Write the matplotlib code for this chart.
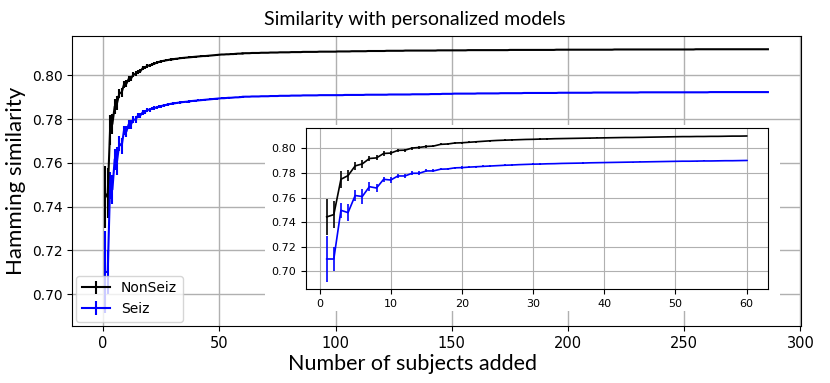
import matplotlib
matplotlib.use('Agg')
import matplotlib.pyplot as plt
import matplotlib.patches as patches

# Valores (x = 1..286 sujeitos adicionados)
n_sujeitos = 286

# primeiros 60 pontos (região do inset), com barras de erro
nonseiz_ini = [0.7443, 0.7462, 0.7749, 0.7779, 0.7858, 0.7874, 0.7918, 0.7923, 0.7959, 0.7962,
               0.7984, 0.7986, 0.8003, 0.8008, 0.8016, 0.8019, 0.8033, 0.8036, 0.8044, 0.8046,
               0.8050, 0.8054, 0.8058, 0.8062, 0.8065, 0.8067, 0.8069, 0.8071, 0.8073, 0.8074,
               0.8076, 0.8077, 0.8079, 0.8080, 0.8081, 0.8082, 0.8083, 0.8084, 0.8085, 0.8086,
               0.8087, 0.8088, 0.8089, 0.8089, 0.8090, 0.8091, 0.8092, 0.8093, 0.8094, 0.8095,
               0.8096, 0.8096, 0.8097, 0.8097, 0.8098, 0.8098, 0.8099, 0.8100, 0.8100, 0.8101]
nonseiz_err = [0.0143, 0.0113, 0.0068, 0.0045, 0.0035, 0.0030, 0.0022, 0.0020, 0.0018, 0.0016,
               0.0014, 0.0013, 0.0012, 0.0011, 0.0010, 0.0009, 0.0009, 0.0008, 0.0008, 0.0007,
               0.0007, 0.0007, 0.0006, 0.0006, 0.0006, 0.0006, 0.0005, 0.0005, 0.0005, 0.0005,
               0.0005, 0.0005, 0.0004, 0.0004, 0.0004, 0.0004, 0.0004, 0.0004, 0.0004, 0.0004,
               0.0004, 0.0004, 0.0004, 0.0004, 0.0004, 0.0003, 0.0003, 0.0003, 0.0003, 0.0003,
               0.0003, 0.0003, 0.0003, 0.0003, 0.0003, 0.0003, 0.0003, 0.0003, 0.0003, 0.0003]
seiz_ini = [0.7101, 0.7101, 0.7497, 0.7478, 0.7617, 0.7609, 0.7689, 0.7678, 0.7749, 0.7743,
            0.7776, 0.7776, 0.7798, 0.7798, 0.7817, 0.7817, 0.7831, 0.7833, 0.7842, 0.7844,
            0.7848, 0.7851, 0.7854, 0.7857, 0.7860, 0.7863, 0.7865, 0.7868, 0.7870, 0.7872,
            0.7873, 0.7875, 0.7876, 0.7878, 0.7879, 0.7880, 0.7881, 0.7883, 0.7884, 0.7885,
            0.7886, 0.7887, 0.7888, 0.7889, 0.7890, 0.7891, 0.7892, 0.7893, 0.7894, 0.7895,
            0.7896, 0.7896, 0.7897, 0.7898, 0.7898, 0.7899, 0.7900, 0.7900, 0.7901, 0.7902]
seiz_err = [0.0187, 0.0100, 0.0060, 0.0068, 0.0048, 0.0064, 0.0035, 0.0035, 0.0022, 0.0025,
            0.0020, 0.0020, 0.0015, 0.0015, 0.0012, 0.0012, 0.0010, 0.0010, 0.0009, 0.0009,
            0.0008, 0.0008, 0.0008, 0.0007, 0.0007, 0.0007, 0.0006, 0.0006, 0.0006, 0.0006,
            0.0005, 0.0005, 0.0005, 0.0005, 0.0005, 0.0005, 0.0005, 0.0005, 0.0005, 0.0005,
            0.0005, 0.0005, 0.0005, 0.0004, 0.0004, 0.0004, 0.0004, 0.0004, 0.0004, 0.0004,
            0.0004, 0.0004, 0.0004, 0.0004, 0.0003, 0.0003, 0.0003, 0.0003, 0.0003, 0.0003]

# pontos 61..286 (erro desprezível na escala do gráfico)
nonseiz_fim = [0.8102, 0.8102, 0.8102, 0.8103, 0.8103, 0.8103, 0.8103, 0.8104, 0.8104, 0.8104,
               0.8104, 0.8105, 0.8105, 0.8105, 0.8105, 0.8106, 0.8106, 0.8106, 0.8106, 0.8106,
               0.8107, 0.8107, 0.8107, 0.8107, 0.8107, 0.8108, 0.8108, 0.8108, 0.8108, 0.8108,
               0.8108, 0.8108, 0.8109, 0.8109, 0.8109, 0.8109, 0.8109, 0.8109, 0.8109, 0.8109,
               0.8110, 0.8110, 0.8110, 0.8110, 0.8110, 0.8110, 0.8111, 0.8111, 0.8111, 0.8111,
               0.8111, 0.8111, 0.8111, 0.8112, 0.8112, 0.8112, 0.8112, 0.8112, 0.8112, 0.8112,
               0.8112, 0.8113, 0.8113, 0.8113, 0.8113, 0.8113, 0.8113, 0.8113, 0.8113, 0.8114,
               0.8114, 0.8114, 0.8114, 0.8114, 0.8114, 0.8114, 0.8114, 0.8114, 0.8114, 0.8114,
               0.8114, 0.8114, 0.8114, 0.8115, 0.8115, 0.8115, 0.8115, 0.8115, 0.8115, 0.8115,
               0.8115, 0.8115, 0.8115, 0.8115, 0.8115, 0.8115, 0.8116, 0.8116, 0.8116, 0.8116,
               0.8116, 0.8116, 0.8116, 0.8116, 0.8116, 0.8116, 0.8116, 0.8116, 0.8116, 0.8116,
               0.8116, 0.8116, 0.8116, 0.8116, 0.8117, 0.8117, 0.8117, 0.8117, 0.8117, 0.8117,
               0.8117, 0.8117, 0.8117, 0.8117, 0.8117, 0.8117, 0.8117, 0.8117, 0.8117, 0.8117,
               0.8117, 0.8117, 0.8117, 0.8117, 0.8118, 0.8118, 0.8118, 0.8118, 0.8118, 0.8118,
               0.8118, 0.8118, 0.8118, 0.8118, 0.8118, 0.8118, 0.8118, 0.8118, 0.8118, 0.8118,
               0.8118, 0.8118, 0.8118, 0.8118, 0.8118, 0.8118, 0.8118, 0.8118, 0.8118, 0.8119,
               0.8119, 0.8119, 0.8119, 0.8119, 0.8119, 0.8119, 0.8119, 0.8119, 0.8119, 0.8119,
               0.8119, 0.8119, 0.8119, 0.8119, 0.8119, 0.8119, 0.8119, 0.8119, 0.8119, 0.8119,
               0.8119, 0.8119, 0.8119, 0.8119, 0.8119, 0.8119, 0.8119, 0.8119, 0.8119, 0.8119,
               0.8119, 0.8119, 0.8119, 0.8119, 0.8120, 0.8120, 0.8120, 0.8120, 0.8120, 0.8120,
               0.8120, 0.8120, 0.8120, 0.8120, 0.8120, 0.8120, 0.8120, 0.8120, 0.8120, 0.8120,
               0.8120, 0.8120, 0.8120, 0.8120, 0.8120, 0.8120, 0.8120, 0.8120, 0.8120, 0.8120,
               0.8120, 0.8120, 0.8120, 0.8120, 0.8120, 0.8120]
seiz_fim = [0.7903, 0.7903, 0.7903, 0.7904, 0.7904, 0.7904, 0.7904, 0.7905, 0.7905, 0.7905,
            0.7905, 0.7906, 0.7906, 0.7906, 0.7906, 0.7907, 0.7907, 0.7907, 0.7907, 0.7907,
            0.7908, 0.7908, 0.7908, 0.7908, 0.7908, 0.7909, 0.7909, 0.7909, 0.7909, 0.7909,
            0.7909, 0.7909, 0.7910, 0.7910, 0.7910, 0.7910, 0.7910, 0.7910, 0.7910, 0.7910,
            0.7910, 0.7910, 0.7910, 0.7911, 0.7911, 0.7911, 0.7911, 0.7911, 0.7911, 0.7911,
            0.7911, 0.7911, 0.7912, 0.7912, 0.7912, 0.7912, 0.7912, 0.7912, 0.7912, 0.7912,
            0.7912, 0.7912, 0.7913, 0.7913, 0.7913, 0.7913, 0.7913, 0.7913, 0.7913, 0.7913,
            0.7913, 0.7913, 0.7914, 0.7914, 0.7914, 0.7914, 0.7914, 0.7914, 0.7914, 0.7914,
            0.7915, 0.7915, 0.7915, 0.7915, 0.7915, 0.7916, 0.7916, 0.7916, 0.7916, 0.7916,
            0.7917, 0.7917, 0.7917, 0.7917, 0.7917, 0.7917, 0.7917, 0.7917, 0.7917, 0.7917,
            0.7918, 0.7918, 0.7918, 0.7918, 0.7918, 0.7918, 0.7918, 0.7918, 0.7918, 0.7918,
            0.7919, 0.7919, 0.7919, 0.7919, 0.7919, 0.7919, 0.7919, 0.7919, 0.7919, 0.7919,
            0.7920, 0.7920, 0.7920, 0.7920, 0.7920, 0.7920, 0.7920, 0.7920, 0.7920, 0.7920,
            0.7920, 0.7920, 0.7920, 0.7920, 0.7920, 0.7921, 0.7921, 0.7921, 0.7921, 0.7921,
            0.7921, 0.7921, 0.7921, 0.7921, 0.7921, 0.7921, 0.7921, 0.7921, 0.7921, 0.7921,
            0.7922, 0.7922, 0.7922, 0.7922, 0.7922, 0.7922, 0.7922, 0.7922, 0.7922, 0.7922,
            0.7922, 0.7922, 0.7922, 0.7922, 0.7922, 0.7922, 0.7922, 0.7922, 0.7922, 0.7922,
            0.7923, 0.7923, 0.7923, 0.7923, 0.7923, 0.7923, 0.7923, 0.7923, 0.7923, 0.7923,
            0.7923, 0.7923, 0.7923, 0.7923, 0.7923, 0.7923, 0.7923, 0.7923, 0.7923, 0.7923,
            0.7923, 0.7923, 0.7923, 0.7923, 0.7923, 0.7923, 0.7923, 0.7923, 0.7923, 0.7923,
            0.7924, 0.7924, 0.7924, 0.7924, 0.7924, 0.7924, 0.7924, 0.7924, 0.7924, 0.7924,
            0.7924, 0.7924, 0.7924, 0.7924, 0.7924, 0.7924, 0.7924, 0.7924, 0.7924, 0.7924,
            0.7924, 0.7924, 0.7924, 0.7924, 0.7924, 0.7924]

rotulos = ['NonSeiz', 'Seiz']
cores = ['black', 'blue']

n_ini = len(nonseiz_ini)
x_ini = list(range(1, n_ini + 1))
x_fim = list(range(n_ini, n_sujeitos + 1))

fonte_titulo = ['Lato', 'DejaVu Sans']

fig = plt.figure(figsize=(8.3, 3.83), dpi=100)
ax = fig.add_axes([0.0871, 0.1488, 0.878, 0.757])

series = [(nonseiz_ini, nonseiz_err, nonseiz_fim), (seiz_ini, seiz_err, seiz_fim)]
for (ini, err, fim), rot, cor in zip(series, rotulos, cores):
    ax.errorbar(x_ini, ini, yerr=err, color=cor, linewidth=1.5, elinewidth=1.5, label=rot)
    ax.plot(x_fim, [ini[-1]] + fim, color=cor, linewidth=1.5)

ax.grid(True, color='#b0b0b0', linewidth=1)
ax.set_axisbelow(True)
# título e rótulo x centrados na figura, não no eixo
ax.set_title('Similarity with personalized models', fontsize=14, family=fonte_titulo,
             pad=8, x=0.47)
ax.set_xlabel('Number of subjects added', fontsize=15.5, family=fonte_titulo, labelpad=2)
ax.xaxis.label.set_x(0.4675)
ax.set_ylabel('Hamming similarity', fontsize=16, family=fonte_titulo)
ax.tick_params(axis='x', labelsize=10.5)
ax.tick_params(axis='y', labelsize=10)
ax.legend(loc='lower left', fontsize=10, framealpha=0.8, borderaxespad=0.3)

# fundo branco por trás do inset (cobre a grade do gráfico principal)
ax.add_patch(patches.Rectangle((0.319, 0.188), 0.621, 0.486, transform=fig.transFigure,
                               facecolor='white', edgecolor='none', zorder=4, clip_on=False))

# inset com os 60 primeiros pontos
axin = fig.add_axes([0.3683, 0.2446, 0.5566, 0.4204])
axin.set_zorder(2)
for (ini, err, _), cor in zip(series, cores):
    axin.errorbar(x_ini, ini, yerr=err, color=cor, linewidth=1.2, elinewidth=1.2)
axin.grid(True, color='#b0b0b0', linewidth=0.8)
axin.set_axisbelow(True)
axin.tick_params(labelsize=8)

fig.savefig('out.png', dpi=100)
